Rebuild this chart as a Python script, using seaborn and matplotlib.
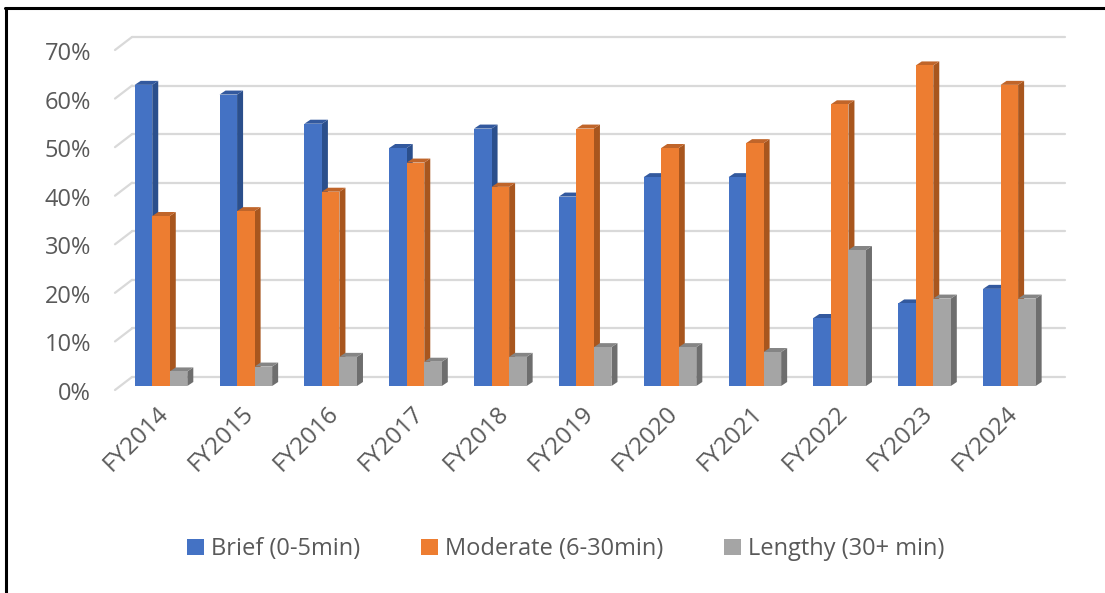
import pandas as pd
import matplotlib
matplotlib.use("Agg")
import matplotlib.pyplot as plt
import matplotlib.transforms as mtransforms
from matplotlib.patches import Polygon, Patch
from matplotlib.lines import Line2D
import seaborn as sns

years = ["FY2014", "FY2015", "FY2016", "FY2017", "FY2018", "FY2019",
         "FY2020", "FY2021", "FY2022", "FY2023", "FY2024"]
brief = [62, 60, 54, 49, 53, 39, 43, 43, 14, 17, 20]
moderate = [35, 36, 40, 46, 41, 53, 49, 50, 58, 66, 62]
lengthy = [3, 4, 6, 5, 6, 8, 8, 7, 28, 18, 18]
series_names = ["Brief (0-5min)", "Moderate (6-30min)", "Lengthy (30+ min)"]
y_ticks = [0, 10, 20, 30, 40, 50, 60, 70]

front_colors = ["#4472C4", "#ED7D31", "#A5A5A5"]
side_colors = ["#2B4F8C", "#A8561E", "#6E6E6E"]
top_colors = ["#33599E", "#C0652A", "#858585"]
text_color = "#595959"
grid_color = "#D9D9D9"

df = pd.DataFrame({
    "year": years * 3,
    "share": brief + moderate + lengthy,
    "series": [s for s in series_names for _ in years],
})

sns.set_style("white")
plt.rcParams["font.family"] = ["Open Sans", "DejaVu Sans"]

fig = plt.figure(figsize=(11.05, 5.93), dpi=100)
ax = fig.add_axes([123 / 1105, 1 - 386 / 593, 933 / 1105, 340 / 593])

sns.barplot(data=df, x="year", y="share", hue="series", palette=front_colors,
            width=0.62, gap=0, saturation=1, legend=False, ax=ax, zorder=3)

ax.set_xlim(-0.448, 10.55)
ax.set_ylim(0, 70)

# fake 3D: side and top faces for each bar (offset in pixels)
dpx, dpy = 6, 4
to_disp = ax.transData
to_data = ax.transData.inverted()
for i, cont in enumerate(ax.containers):
    for bar in cont:
        bar.set_zorder(3 + i)
        bar.set_edgecolor("none")
        x0, y0 = bar.get_x(), 0
        x1, y1 = x0 + bar.get_width(), bar.get_height()
        (X0, Y0), (X1, Y1) = to_disp.transform([(x0, y0), (x1, y1)])
        side = to_data.transform([(X1, Y0), (X1 + dpx, Y0 + dpy),
                                  (X1 + dpx, Y1 + dpy), (X1, Y1)])
        top = to_data.transform([(X0, Y1), (X1, Y1),
                                 (X1 + dpx, Y1 + dpy), (X0 + dpx, Y1 + dpy)])
        ax.add_patch(Polygon(side, closed=True, facecolor=side_colors[i],
                             edgecolor="none", zorder=2.5 + i, clip_on=False))
        ax.add_patch(Polygon(top, closed=True, facecolor=top_colors[i],
                             edgecolor="none", zorder=2.5 + i, clip_on=False))

# gridlines on the back wall with a slanted floor stub
blend = mtransforms.blended_transform_factory(ax.transAxes, ax.transData)
back = blend + mtransforms.ScaledTranslation(9 / 100, 9 / 100, fig.dpi_scale_trans)
front = blend + mtransforms.ScaledTranslation(-8 / 100, -4 / 100, fig.dpi_scale_trans)
for t in y_ticks:
    ax.add_line(Line2D([0, 1], [t, t], transform=back, color=grid_color,
                       lw=1.6, zorder=1, clip_on=False))
    p_front = front.transform((0, t))
    p_back = back.transform((0, t))
    ax.add_line(Line2D([p_front[0], p_back[0]], [p_front[1], p_back[1]],
                       transform=None, color=grid_color, lw=1.6, zorder=1,
                       clip_on=False))

ax.set_yticks(y_ticks)
ax.set_yticklabels([f"{t}%" for t in y_ticks])
ax.tick_params(axis="y", length=0, pad=23, labelsize=17, labelcolor=text_color)
shift = mtransforms.ScaledTranslation(0, -5 / 100, fig.dpi_scale_trans)
for lab in ax.get_yticklabels():
    lab.set_transform(lab.get_transform() + shift)

ax.tick_params(axis="x", length=0, pad=11, labelsize=17.5, labelcolor=text_color)
plt.setp(ax.get_xticklabels(), rotation=45, ha="right", rotation_mode="anchor")
xshift = mtransforms.ScaledTranslation(-4 / 100, 0, fig.dpi_scale_trans)
for lab in ax.get_xticklabels():
    lab.set_transform(lab.get_transform() + xshift)
ax.set_xlabel("")
ax.set_ylabel("")
sns.despine(ax=ax, left=True, bottom=True)

handles = [Patch(facecolor=c, edgecolor="none") for c in front_colors]
fig.legend(handles, series_names, loc="center", bbox_to_anchor=(0.512, 0.074),
           ncol=3, frameon=False, fontsize=17, labelcolor=text_color,
           handlelength=0.7, handleheight=0.7, handletextpad=0.3,
           columnspacing=2.6)

# frame lines (top and left) as in the screenshot
fig.add_artist(Line2D([5 / 1105, 1], [1 - 8 / 593, 1 - 8 / 593], color="black",
                      lw=2.2, transform=fig.transFigure))
fig.add_artist(Line2D([6 / 1105, 6 / 1105], [0, 1 - 8 / 593], color="black",
                      lw=2.2, transform=fig.transFigure))

fig.savefig("out.png", dpi=100)
